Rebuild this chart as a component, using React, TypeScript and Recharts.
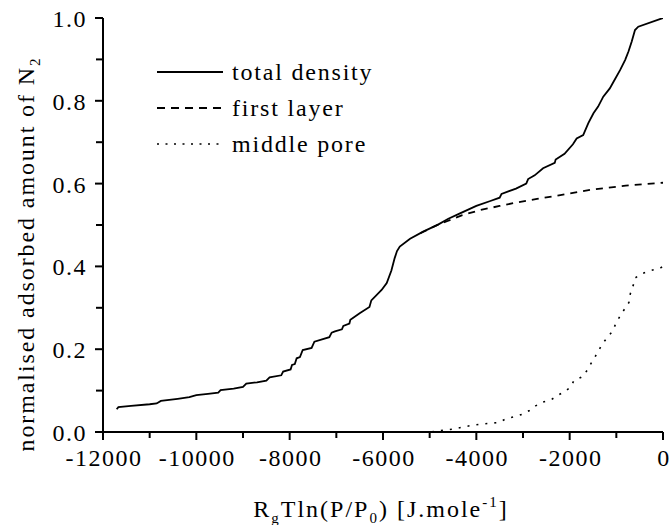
import React from "react";
import { LineChart, Line, XAxis, YAxis, Legend, Label } from "recharts";

const totalDensity: [number, number][] = [
  [-11707, 0.055], [-11670, 0.060], [-11400, 0.063], [-11000, 0.067], [-10850, 0.069],
  [-10760, 0.075], [-10400, 0.080], [-10150, 0.084], [-10000, 0.089], [-9750, 0.092],
  [-9530, 0.095], [-9480, 0.101], [-9200, 0.105], [-9000, 0.109], [-8930, 0.117],
  [-8700, 0.120], [-8500, 0.124], [-8430, 0.132], [-8180, 0.137], [-8140, 0.146],
  [-7980, 0.151], [-7950, 0.162], [-7890, 0.164], [-7850, 0.178], [-7780, 0.181],
  [-7720, 0.198], [-7530, 0.203], [-7470, 0.218], [-7150, 0.229], [-7100, 0.240],
  [-7030, 0.243], [-6880, 0.248], [-6850, 0.256], [-6720, 0.262], [-6700, 0.271],
  [-6500, 0.287], [-6290, 0.302], [-6250, 0.318], [-6030, 0.343], [-5920, 0.360],
  [-5820, 0.390], [-5750, 0.420], [-5700, 0.437], [-5640, 0.448], [-5420, 0.467],
  [-5140, 0.484], [-4820, 0.501], [-4600, 0.515], [-4350, 0.528], [-4000, 0.546],
  [-3700, 0.558], [-3500, 0.566], [-3460, 0.575], [-3150, 0.588], [-2930, 0.600],
  [-2890, 0.611], [-2750, 0.620], [-2570, 0.637], [-2320, 0.650], [-2300, 0.658],
  [-2110, 0.672], [-1930, 0.695], [-1850, 0.709], [-1710, 0.717], [-1600, 0.746],
  [-1490, 0.770], [-1390, 0.786], [-1280, 0.810], [-1140, 0.830], [-1060, 0.846],
  [-920, 0.874], [-810, 0.899], [-740, 0.919], [-670, 0.943], [-600, 0.971],
  [-530, 0.979], [0, 1.0],
];

const firstLayer: [number, number][] = [
  [-5200, 0.480], [-4820, 0.501], [-4630, 0.509], [-4300, 0.524], [-3920, 0.536],
  [-3500, 0.546], [-3200, 0.553], [-2700, 0.563], [-2200, 0.572], [-1560, 0.585],
  [-800, 0.595], [0, 0.602],
];

const middlePore: [number, number][] = [
  [-11700, 0.0], [-5000, 0.0], [-4670, 0.005], [-4490, 0.007], [-4280, 0.012],
  [-4100, 0.016], [-3910, 0.019], [-3710, 0.021], [-3510, 0.023], [-3350, 0.033],
  [-3170, 0.037], [-3010, 0.043], [-2860, 0.052], [-2730, 0.063], [-2590, 0.072],
  [-2410, 0.077], [-2260, 0.088], [-2120, 0.097], [-1980, 0.108], [-1910, 0.124],
  [-1720, 0.134], [-1620, 0.150], [-1530, 0.168], [-1410, 0.190], [-1310, 0.211],
  [-1190, 0.229], [-1070, 0.245], [-1010, 0.263], [-920, 0.280], [-830, 0.296],
  [-730, 0.313], [-700, 0.334], [-640, 0.353], [-600, 0.372], [-440, 0.383],
  [-260, 0.390], [-60, 0.396], [0, 0.400],
];

const seriesNames = ["total density", "first layer", "middle pore"];
const xTicks = [-12000, -11000, -10000, -9000, -8000, -7000, -6000, -5000, -4000, -3000, -2000, -1000, 0];
const yTicks = [0, 0.1, 0.2, 0.3, 0.4, 0.5, 0.6, 0.7, 0.8, 0.9, 1.0];

const toRows = (arr: [number, number][]) => arr.map(([x, y]) => ({ x, y }));

const FONT = "\"Liberation Serif\", \"DejaVu Serif\", \"Times New Roman\", serif";
const txt: React.CSSProperties = { fontFamily: FONT };
const dashes = [undefined, "7 6", "2 7"];

const isMajorX = (v: number) => Math.abs(Math.round(v) % 2000) === 0;
const isMajorY = (v: number) => Math.abs(Math.round(v * 10) % 2) === 0;

const BottomTick = (props: any) => {
  const { x, y, payload } = props;
  const major = isMajorX(payload.value);
  return (
    <g>
      <line x1={x} x2={x} y1={y} y2={y + (major ? 8 : 6)} stroke="#000" strokeWidth={2} />
      {major && (
        <text x={x + 1} y={y + 34} textAnchor="middle" style={txt} fontSize={24} letterSpacing={1.5} fill="#000">
          {payload.value}
        </text>
      )}
    </g>
  );
};

const TopTick = (props: any) => {
  const { x, y } = props;
  return <line x1={x} x2={x} y1={y} y2={y + 6} stroke="#000" strokeWidth={1.5} />;
};

const LeftTick = (props: any) => {
  const { x, y, payload } = props;
  const major = isMajorY(payload.value);
  return (
    <g>
      <line x1={x - (major ? 8 : 7)} x2={x} y1={y} y2={y} stroke="#000" strokeWidth={2} />
      {major && (
        <text x={x - 16} y={y + 9} textAnchor="end" style={txt} fontSize={24} letterSpacing={1.5} fill="#000">
          {payload.value.toFixed(1)}
        </text>
      )}
    </g>
  );
};

const RightTick = (props: any) => {
  const { x, y } = props;
  return <line x1={x - 6} x2={x} y1={y} y2={y} stroke="#000" strokeWidth={1.5} />;
};

const XTitle = (props: any) => {
  const vb = props.viewBox;
  const cx = vb.x + vb.width / 2 - 2;
  return (
    <text x={cx} y={vb.y + 85} textAnchor="middle" style={txt} fontSize={24} letterSpacing={2} fill="#000">
      R<tspan fontSize={15} dy={6}>g</tspan>
      <tspan dy={-6}>Tln(P/P</tspan>
      <tspan fontSize={15} dy={6}>0</tspan>
      <tspan dy={-6}>) [J.mole</tspan>
      <tspan fontSize={15} dy={-10}>-1</tspan>
      <tspan dy={10}>]</tspan>
    </text>
  );
};

const YTitle = () => {
  const cx = 34;
  const cy = 254;
  return (
    <text
      x={cx}
      y={cy}
      transform={`rotate(-90, ${cx}, ${cy})`}
      textAnchor="middle"
      style={txt}
      fontSize={24}
      letterSpacing={1.9}
      fill="#000"
    >
      normalised adsorbed amount of N<tspan fontSize={15} dy={6}>2</tspan>
    </text>
  );
};

const LegendContent = () => (
  <svg width={260} height={110} style={{ display: "block" }}>
    {seriesNames.map((name, i) => {
      const cy = 17 + i * 36;
      return (
        <g key={name}>
          <line x1={7} x2={73} y1={cy} y2={cy} stroke="#000" strokeWidth={i === 2 ? 1.5 : 1.8} strokeDasharray={i === 1 ? "8 6" : i === 2 ? "2 6.5" : undefined} />
          <text x={82} y={cy + 8} style={txt} fontSize={24} letterSpacing={1.8} fill="#000">
            {name}
          </text>
        </g>
      );
    })}
  </svg>
);

export default function App() {
  return (
    <div style={{ position: "absolute", left: 0, top: 0, width: 670, height: 525, background: "#fff", fontFamily: FONT }}>
      <LineChart width={670} height={525} margin={{ top: 18, right: 7, bottom: 0, left: 0 }} style={{ fontFamily: FONT }}>
        <XAxis
          dataKey="x"
          type="number"
          domain={[-12000, 0]}
          ticks={xTicks}
          interval={0}
          height={93}
          tickSize={0}
          tickMargin={0}
          tickLine={false}
          axisLine={{ stroke: "#000", strokeWidth: 2 }}
          tick={<BottomTick />}
          allowDataOverflow
        >
          <Label content={<XTitle />} />
        </XAxis>
        <XAxis
          xAxisId="top"
          orientation="top"
          dataKey="x"
          type="number"
          domain={[-12000, 0]}
          ticks={xTicks}
          interval={0}
          height={0}
          tickSize={0}
          tickMargin={0}
          tickLine={false}
          axisLine={{ stroke: "#000", strokeWidth: 2 }}
          tick={<TopTick />}
        />
        <YAxis
          type="number"
          domain={[0, 1]}
          ticks={yTicks}
          interval={0}
          width={103}
          tickSize={0}
          tickMargin={0}
          tickLine={false}
          axisLine={{ stroke: "#000", strokeWidth: 2 }}
          tick={<LeftTick />}
          allowDataOverflow
        >
          <Label content={<YTitle />} />
        </YAxis>
        <YAxis
          yAxisId="right"
          orientation="right"
          type="number"
          domain={[0, 1]}
          ticks={yTicks}
          interval={0}
          width={0}
          tickSize={0}
          tickMargin={0}
          tickLine={false}
          axisLine={{ stroke: "#000", strokeWidth: 2 }}
          tick={<RightTick />}
        />
        <Legend
          layout="vertical"
          align="center"
          verticalAlign="middle"
          wrapperStyle={{ position: "absolute", left: 150, top: 55, width: 260, height: 110 }}
          content={<LegendContent />}
        />
        <Line
          name={seriesNames[2]}
          data={toRows(middlePore)}
          dataKey="y"
          type="linear"
          stroke="#000"
          strokeWidth={1.6}
          strokeDasharray={dashes[2]}
          dot={false}
          activeDot={false}
          isAnimationActive={false}
        />
        <Line
          name={seriesNames[1]}
          data={toRows(firstLayer)}
          dataKey="y"
          type="linear"
          stroke="#000"
          strokeWidth={1.8}
          strokeDasharray={dashes[1]}
          dot={false}
          activeDot={false}
          isAnimationActive={false}
        />
        <Line
          name={seriesNames[0]}
          data={toRows(totalDensity)}
          dataKey="y"
          type="linear"
          stroke="#000"
          strokeWidth={1.8}
          dot={false}
          activeDot={false}
          isAnimationActive={false}
        />
      </LineChart>
    </div>
  );
}
